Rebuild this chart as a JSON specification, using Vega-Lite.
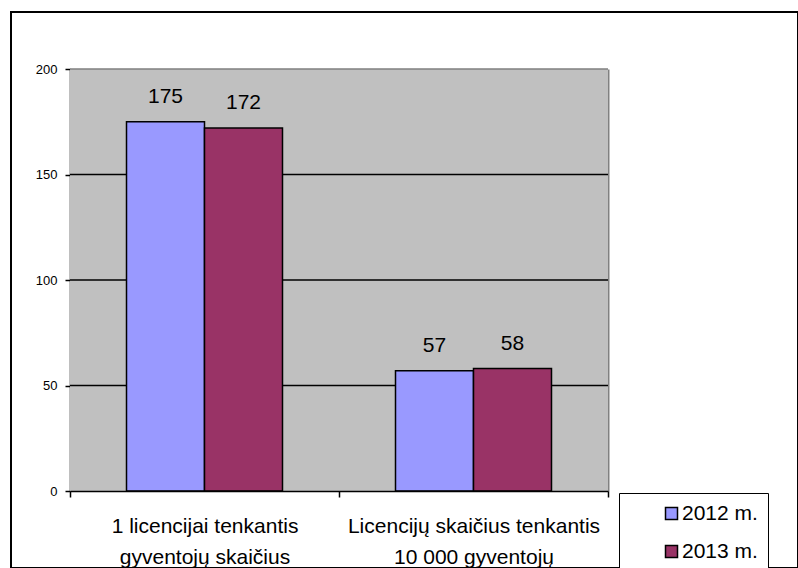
{
  "$schema": "https://vega.github.io/schema/vega-lite/v6.json",
  "autosize": {"type": "none"},
  "padding": {"left": 11, "top": 12, "right": 0, "bottom": 0},
  "width": 787,
  "height": 556,
  "background": "white",
  "config": {
    "view": {"stroke": "black", "strokeWidth": 2, "fill": "white"},
    "font": "Liberation Sans"
  },
  "datasets": {
    "main": [
      {"category": "1 licencijai tenkantis|gyventojų skaičius", "year": "2012 m.", "value": 175},
      {"category": "1 licencijai tenkantis|gyventojų skaičius", "year": "2013 m.", "value": 172},
      {"category": "Licencijų skaičius tenkantis|10 000 gyventojų", "year": "2012 m.", "value": 57},
      {"category": "Licencijų skaičius tenkantis|10 000 gyventojų", "year": "2013 m.", "value": 58}
    ],
    "grid": [
      {"category": "1 licencijai tenkantis|gyventojų skaičius", "g": 50},
      {"category": "1 licencijai tenkantis|gyventojų skaičius", "g": 100},
      {"category": "1 licencijai tenkantis|gyventojų skaičius", "g": 150},
      {"category": "1 licencijai tenkantis|gyventojų skaičius", "g": 200},
      {"category": "Licencijų skaičius tenkantis|10 000 gyventojų", "g": 50},
      {"category": "Licencijų skaičius tenkantis|10 000 gyventojų", "g": 100},
      {"category": "Licencijų skaičius tenkantis|10 000 gyventojų", "g": 150},
      {"category": "Licencijų skaičius tenkantis|10 000 gyventojų", "g": 200}
    ]
  },
  "data": {"name": "main"},
  "encoding": {
    "x": {
      "field": "category",
      "type": "nominal",
      "sort": null,
      "scale": {"range": [59, 597], "paddingInner": 0, "paddingOuter": 0},
      "axis": {
        "orient": "bottom",
        "offset": -77,
        "title": null,
        "tickBand": "extent",
        "domainColor": "black",
        "domainWidth": 1.5,
        "tickColor": "black",
        "tickWidth": 1.5,
        "tickSize": 6,
        "labelAngle": 0,
        "labelFontSize": 21,
        "labelFont": "Liberation Sans",
        "labelColor": "black",
        "labelPadding": 18,
        "labelBaseline": "top",
        "labelLineHeight": 31,
        "labelLimit": 500,
        "labelOverlap": false,
        "labelExpr": "split(datum.label, '|')",
        "grid": false
      }
    }
  },
  "layer": [
    {
      "mark": {"type": "rect", "fill": "#C0C0C0"},
      "encoding": {
        "y": {
          "datum": 0,
          "type": "quantitative",
          "scale": {"domain": [0, 200], "range": [479, 57], "nice": false, "zero": true},
          "axis": null
        },
        "y2": {"datum": 200}
      }
    },
    {
      "data": {"name": "grid"},
      "mark": {"type": "rect", "fill": null, "strokeWidth": 1.5},
      "encoding": {
        "y": {"field": "g", "type": "quantitative", "axis": null},
        "y2": {"field": "g"},
        "stroke": {"condition": {"test": "datum.g === 200", "value": "#808080"}, "value": "black"}
      }
    },
    {
      "mark": {"type": "bar", "stroke": "black", "strokeWidth": 1.5},
      "encoding": {
        "xOffset": {"field": "year", "type": "nominal", "scale": {"paddingOuter": 0.7244, "paddingInner": 0}},
        "y": {
          "field": "value",
          "type": "quantitative",
          "axis": {
            "orient": "left",
            "offset": -59,
            "title": null,
            "values": [0, 50, 100, 150, 200],
            "domainColor": "black",
            "domainWidth": 1.5,
            "tickColor": "black",
            "tickWidth": 1.5,
            "tickSize": 5,
            "labelFontSize": 13,
            "labelFont": "Liberation Sans",
            "labelColor": "black",
            "labelPadding": 8,
            "grid": false
          }
        },
        "color": {
          "field": "year",
          "type": "nominal",
          "scale": {"range": ["#9999FF", "#993366"]},
          "legend": {
            "orient": "none",
            "legendX": 608,
            "legendY": 481,
            "title": null,
            "strokeColor": "black",
            "fillColor": "white",
            "padding": 10,
            "symbolType": "square",
            "symbolSize": 144,
            "symbolStrokeColor": "black",
            "symbolStrokeWidth": 1.5,
            "symbolOffset": 32,
            "labelOffset": 0,
            "labelFontSize": 21,
            "labelFont": "Liberation Sans",
            "labelColor": "black",
            "labelLimit": 400,
            "rowPadding": 16,
            "labelExpr": "datum.label + '\u00a0\u00a0\u00a0\u00a0\u2009'"
          }
        }
      }
    },
    {
      "mark": {"type": "text", "fontSize": 21, "dy": -19, "baseline": "alphabetic", "font": "Liberation Sans", "fill": "black"},
      "encoding": {
        "xOffset": {"field": "year", "type": "nominal"},
        "y": {
          "field": "value",
          "type": "quantitative",
          "axis": {
            "orient": "right",
            "offset": -190,
            "title": null,
            "ticks": false,
            "labels": false,
            "grid": false,
            "domainColor": "#808080",
            "domainWidth": 2
          }
        },
        "text": {"field": "value", "type": "quantitative"}
      }
    }
  ],
  "resolve": {"axis": {"y": "independent"}}
}
